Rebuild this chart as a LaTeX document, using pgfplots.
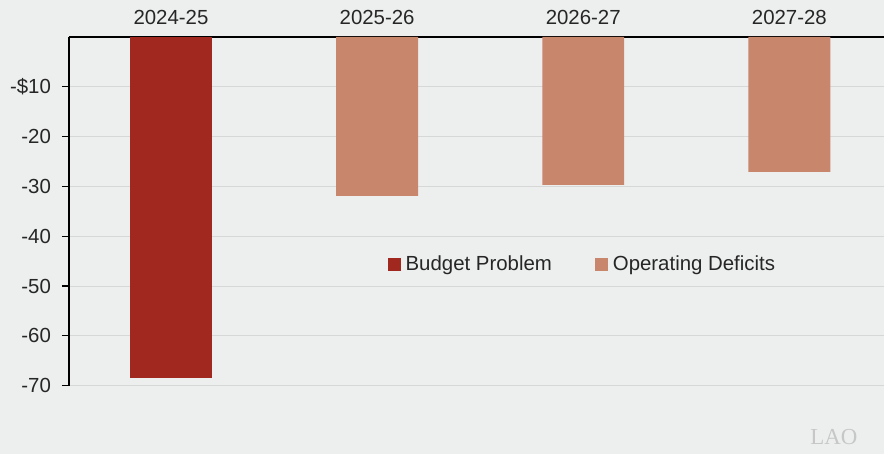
\documentclass[border=0pt]{standalone}
\usepackage{pgfplots}
\pgfplotsset{compat=1.18}
\usepackage{fontspec}
\setmainfont{Liberation Sans}
\newfontfamily\seriffont{Liberation Serif}
\definecolor{bg}{HTML}{EDEEEE}
\definecolor{darkred}{HTML}{A0281F}
\definecolor{salmon}{HTML}{C8876D}
\definecolor{gridc}{HTML}{D6D8D8}
\begin{document}
\fontsize{20.5}{24}\selectfont
\begin{tikzpicture}
\path[fill=bg] (0bp,0bp) rectangle (885bp,454bp);
\begin{axis}[
  at={(69bp,68bp)}, anchor=south west,
  scale only axis, width=816bp, height=349bp,
  xmin=-0.495, xmax=3.46, ymin=-70, ymax=0,
  axis x line*=top, axis y line*=left,
  axis line style={black, line width=1.6bp, -},
  xtick={0,1,2,3},
  xticklabels={2024-25,2025-26,2026-27,2027-28},
  x tick style={draw=none},
  ytick={-70,-60,-50,-40,-30,-20,-10},
  yticklabels={-70,-60,-50,-40,-30,-20,-\$10},
  y tick style={black, line width=1.3bp},
  major tick length=7bp, tick align=outside,
  ymajorgrids, grid style={gridc, line width=0.8bp},
  /pgf/number format/assume math mode=true,
  ticklabel style={font=\fontsize{20.5}{24}\selectfont, text=black!85},
  xticklabel style={yshift=-2bp},
  yticklabel style={xshift=-4bp},
  ybar, bar width=82bp,
  legend style={at={(0.387,0.347)}, anchor=west, draw=none, fill=none,
    font=\fontsize{20.5}{24}\selectfont, text=black!85,
    nodes={inner xsep=5bp},
    /tikz/every even column/.append style={column sep=38bp}},
  legend columns=2,
  legend image code/.code={\fill[#1] (0bp,-6.5bp) rectangle (13bp,6.5bp);},
]
\addplot[fill=darkred, draw=none, bar shift=0pt] coordinates {(0,-68.4)};
\addplot[fill=salmon, draw=none, bar shift=0pt] coordinates {(1,-31.9) (2,-29.7) (3,-27.1)};
\legend{Budget Problem, Operating Deficits}
\end{axis}
\node[anchor=west, text=black!22, font=\seriffont\fontsize{23}{26}\selectfont, inner sep=0pt] at (811bp,17bp) {LAO};
\end{tikzpicture}
\end{document}
